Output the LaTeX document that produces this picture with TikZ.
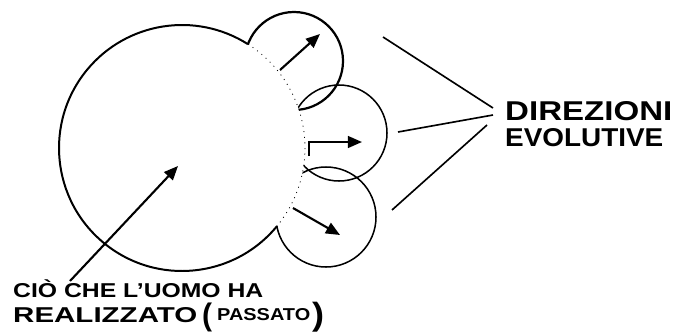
\documentclass[tikz,border=0pt]{standalone}
\usepackage{fontspec}
\setmainfont{Liberation Sans}
\usetikzlibrary{arrows.meta,calc}
\begin{document}
\begin{tikzpicture}[x=0.03cm,y=-0.03cm,
  ring/.style={line width=1.3pt,black},
  bigring/.style={line width=1.7pt,black},
  faint/.style={line width=0.7pt,dash pattern=on 0.8pt off 4pt},
  pointer/.style={line width=1.8pt,-{Triangle[length=12pt,width=10pt]}},
  ray/.style={line width=1.4pt},
  lbl/.style={inner sep=0pt,anchor=north west,font=\bfseries}]
\useasboundingbox (0,0) rectangle (683,332);
\fill[white] (0,0) rectangle (683,332);
% centres
\coordinate (B) at (182,148);
\coordinate (T) at (294,61);
\coordinate (M) at (339,133);
\coordinate (D) at (326,217);
% big circle: solid outside the small circles, faint inside them
\draw[bigring] ($(B)+(39.4:123)$) arc[start angle=39.4,end angle=302.4,radius=123];
\draw[faint] ($(B)+(-57.6:123)$) arc[start angle=-57.6,end angle=39.4,radius=123];
% small circles, only outside the big one
\begin{scope}[even odd rule]
  \clip (0,0) rectangle (683,332) (B) circle[radius=123];
  \draw[ring,line width=1.9pt] (T) circle[radius=49];
  \draw[ring] (M) circle[radius=48];
  \draw[ring] (D) circle[radius=50];
\end{scope}
% arrows
\coordinate (a1s) at (280,70);  \coordinate (a1e) at (320,34);
\coordinate (a2s) at (309,156); \coordinate (a2e) at (362,142);
\coordinate (a3s) at (293,208); \coordinate (a3e) at (340,235);
\coordinate (a4s) at (70,281);  \coordinate (a4e) at (178,166);
\draw[pointer] (a1s) -- (a1e);
\draw[pointer] (a2s) |- (a2e);
\draw[pointer] (a3s) -- (a3e);
\draw[pointer] (a4s) -- (a4e);
% rays
\coordinate (r1s) at (383,37);  \coordinate (r1e) at (493,108);
\coordinate (r2s) at (398,132); \coordinate (r2e) at (493,115);
\coordinate (r3s) at (392,210); \coordinate (r3e) at (487,125);
\draw[ray] (r1s) -- (r1e);
\draw[ray] (r2s) -- (r2e);
\draw[ray] (r3s) -- (r3e);
% labels
\node[lbl] (dir) at (505,101) {\resizebox{5.01cm}{0.57cm}{DIREZIONI}};
\node[lbl] (evo) at (505,128) {\resizebox{4.74cm}{0.54cm}{EVOLUTIVE}};
\node[lbl] (l1) at (13,283) {\resizebox{7.5cm}{0.42cm}{CI\smash{Ò} CHE L'UOMO HA}};
\node[lbl] (l2) at (13,307) {\resizebox{5.52cm}{0.45cm}{REALIZZATO}};
\node[lbl] (lp) at (202,303) {\resizebox*{0.3cm}{0.87cm}{(}};
\node[lbl] (pa) at (217,308) {\resizebox{2.79cm}{0.36cm}{PASSATO}};
\node[lbl] (rp) at (312,302) {\resizebox*{0.36cm}{0.9cm}{)}};
\end{tikzpicture}
\end{document}
